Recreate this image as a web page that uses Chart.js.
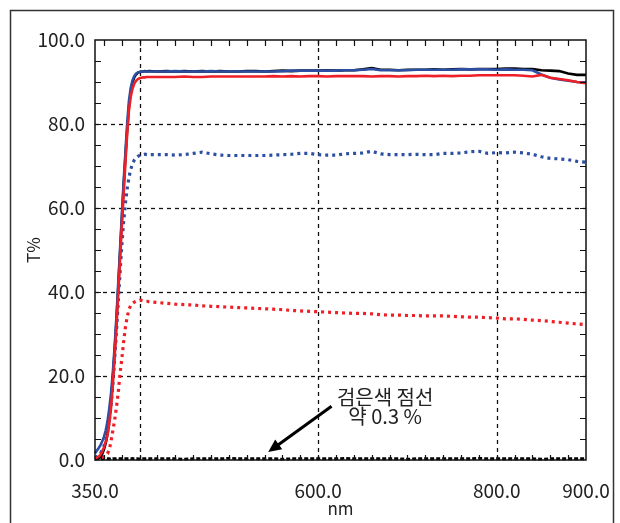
<!DOCTYPE html>
<html>
<head>
<meta charset="utf-8">
<script src="https://cdn.jsdelivr.net/npm/chart.js@4.4.0/dist/chart.umd.min.js"></script>
<style>
  html, body { margin: 0; padding: 0; background: #fff; }
  #wrap { width: 620px; height: 523px; }
</style>
</head>
<body>
<div id="wrap"><canvas id="tChart" width="620" height="523"></canvas></div>
<script>
// 파장 (nm): 상승 구간은 2 nm, 이후는 10 nm 간격
const wavelengths = [
  350, 352, 354, 356, 358, 360, 362, 364, 366, 368,
  370, 372, 374, 376, 378, 380, 382, 384, 386, 388,
  390, 392, 394, 396, 398, 400, 402, 404, 406, 408,
  410,
  420, 430, 440, 450, 460, 470, 480, 490, 500, 510,
  520, 530, 540, 550, 560, 570, 580, 590, 600, 610,
  620, 630, 640, 650, 660, 670, 680, 690, 700, 710,
  720, 730, 740, 750, 760, 770, 780, 790, 800, 810,
  820, 830, 840, 850, 860, 870, 880, 890, 900
];

// 투과율 T% — 검은색 실선
const blackSolid = [
  0.3, 0.3, 0.4, 0.7, 1.4, 2.5, 4.0, 6.2, 9.5, 14.0,
  19.5, 26.0, 33.0, 41.0, 49.0, 57.0, 65.0, 72.0, 78.5, 84.0,
  87.6, 89.9, 91.1, 91.8, 92.2, 92.4, 92.5, 92.5, 92.6, 92.5,
  92.6,
  92.5, 92.6, 92.5, 92.6, 92.5, 92.6, 92.5, 92.6, 92.5, 92.5,
  92.6, 92.6, 92.5, 92.6, 92.7, 92.6, 92.7, 92.7, 92.7, 92.8,
  92.7, 92.8, 92.8, 93.0, 93.3, 92.9, 92.9, 92.8, 92.9, 92.9,
  92.9, 93.0, 92.9, 93.0, 93.1, 93.0, 93.1, 93.1, 93.1, 93.2,
  93.2, 93.1, 93.1, 92.8, 92.7, 92.6, 92.0, 91.7, 91.7
];

// 파란색 실선
const blueSolid = [
  1.6, 2.2, 2.8, 3.5, 4.4, 5.5, 7.0, 9.2, 12.3, 16.0,
  21.0, 27.0, 34.0, 42.0, 50.0, 58.0, 66.0, 73.0, 80.0, 85.5,
  88.6, 90.4, 91.4, 92.0, 92.3, 92.4, 92.5, 92.5, 92.5, 92.5,
  92.5,
  92.5, 92.5, 92.6, 92.5, 92.5, 92.5, 92.6, 92.5, 92.5, 92.5,
  92.5, 92.5, 92.5, 92.5, 92.6, 92.7, 92.7, 92.7, 92.7, 92.7,
  92.7, 92.8, 92.8, 92.9, 93.1, 92.8, 92.8, 92.8, 92.8, 92.9,
  92.9, 92.9, 92.9, 92.9, 93.0, 93.0, 93.0, 93.0, 92.9, 93.0,
  92.9, 92.9, 92.8, 91.8, 91.0, 90.6, 90.3, 90.0, 89.9
];

// 빨간색 실선
const redSolid = [
  0.4, 0.5, 0.8, 1.2, 2.0, 3.0, 4.3, 6.0, 8.8, 12.5,
  18.0, 24.5, 31.5, 39.5, 47.5, 55.5, 63.0, 70.5, 77.5, 83.2,
  86.5, 88.4, 89.6, 90.3, 90.7, 90.9, 91.0, 91.1, 91.1, 91.2,
  91.2,
  91.2, 91.2, 91.2, 91.3, 91.2, 91.2, 91.3, 91.3, 91.3, 91.3,
  91.3, 91.3, 91.3, 91.4, 91.3, 91.4, 91.3, 91.4, 91.4, 91.3,
  91.4, 91.4, 91.4, 91.4, 91.3, 91.4, 91.4, 91.3, 91.4, 91.4,
  91.5, 91.4, 91.5, 91.4, 91.5, 91.5, 91.6, 91.6, 91.6, 91.6,
  91.6, 91.5, 91.3, 91.7, 91.0, 90.7, 90.4, 90.0, 89.7
];

// 파란색 점선
const blueDotted = [
  0.6, 0.8, 1.1, 1.6, 2.3, 3.3, 4.6, 6.5, 9.3, 13.0,
  18.0, 24.0, 30.5, 37.5, 44.5, 51.0, 56.5, 61.0, 64.5, 67.2,
  69.2, 70.5, 71.4, 72.0, 72.3, 72.5, 72.7, 72.7, 72.8, 72.7,
  72.7,
  72.7, 72.7, 72.6, 72.7, 73.0, 73.3, 72.9, 72.6, 72.5, 72.5,
  72.5, 72.5, 72.5, 72.6, 72.7, 72.8, 73.0, 73.0, 72.7, 72.6,
  72.6, 72.9, 73.0, 73.1, 73.5, 72.9, 72.7, 72.7, 72.7, 72.8,
  72.7, 72.7, 73.0, 73.0, 73.1, 73.4, 73.5, 73.0, 73.2, 73.1,
  73.3, 73.1, 72.8, 72.2, 71.8, 71.7, 71.5, 71.1, 70.9
];

// 빨간색 점선
const redDotted = [
  0.2, 0.3, 0.3, 0.4, 0.6, 0.8, 1.1, 1.5, 2.5, 4.5,
  7.0, 9.5, 12.5, 16.0, 20.5, 24.0, 28.0, 31.5, 34.0, 35.8,
  36.8, 37.3, 37.6, 37.8, 37.9, 38.0, 38.0, 37.9, 37.8, 37.8,
  37.7,
  37.5, 37.3, 37.1, 37.0, 36.9, 36.7, 36.6, 36.5, 36.4, 36.3,
  36.2, 36.1, 36.0, 35.9, 35.8, 35.6, 35.5, 35.4, 35.3, 35.2,
  35.1, 35.0, 34.9, 34.9, 34.8, 34.6, 34.5, 34.5, 34.4, 34.4,
  34.3, 34.3, 34.3, 34.2, 34.1, 34.0, 34.0, 33.9, 33.8, 33.6,
  33.6, 33.5, 33.3, 33.2, 33.0, 32.8, 32.6, 32.4, 32.2
];

// 검은색 점선 (약 0.3 %)
const blackDotted = [
  0.2, 0.3, 0.3, 0.2, 0.3, 0.3, 0.4, 0.3, 0.3, 0.2,
  0.3, 0.3, 0.3, 0.4, 0.3, 0.3, 0.2, 0.3, 0.3, 0.3,
  0.3, 0.4, 0.3, 0.3, 0.3, 0.2, 0.3, 0.3, 0.3, 0.3,
  0.3,
  0.3, 0.3, 0.3, 0.2, 0.3, 0.3, 0.3, 0.3, 0.4, 0.3,
  0.3, 0.3, 0.3, 0.3, 0.2, 0.3, 0.3, 0.3, 0.3, 0.3,
  0.3, 0.4, 0.3, 0.3, 0.3, 0.3, 0.3, 0.3, 0.2, 0.3,
  0.3, 0.3, 0.3, 0.3, 0.3, 0.3, 0.4, 0.3, 0.3, 0.3,
  0.3, 0.3, 0.3, 0.2, 0.3, 0.3, 0.3, 0.3, 0.3
];

// 축 눈금
const xLabelTicks = [350, 600, 800, 900];
const xGridLines = [400, 600, 800];
const yGridLines = [20, 40, 60, 80];
const noteLines = ['검은색 점선', '약 0.3 %'];

const FONT = "'Noto Sans CJK KR', 'Noto Sans', sans-serif";
const BLUE = '#2c4fa3';
const RED = '#ee1f26';

const toPoints = values => wavelengths.map((w, i) => ({ x: w, y: values[i] }));

function lineSet(label, values, color, width, dash) {
    return {
        label: label,
        data: toPoints(values),
        borderColor: color,
        borderWidth: width,
        borderDash: dash || [],
        pointRadius: 0,
        tension: 0,
        fill: false,
        clip: false
    };
}

// 격자, 안쪽 눈금, 테두리, 주석 화살표
const framePlugin = {
    id: 'framePlugin',
    beforeDraw(chart) {
        const ctx = chart.ctx;
        ctx.save();
        ctx.strokeStyle = '#333';
        ctx.lineWidth = 1.5;
        ctx.beginPath();
        ctx.moveTo(10.5, 530);
        ctx.lineTo(10.5, 10.5);
        ctx.lineTo(613.5, 10.5);
        ctx.lineTo(613.5, 530);
        ctx.stroke();
        ctx.restore();
    },
    beforeDatasetsDraw(chart) {
        const { ctx, chartArea: a, scales: { x, y } } = chart;
        ctx.save();
        ctx.strokeStyle = '#111';
        ctx.lineWidth = 1.3;
        ctx.setLineDash([4, 4]);
        xGridLines.forEach(v => {
            const px = Math.round(x.getPixelForValue(v)) + 0.5;
            ctx.beginPath();
            ctx.moveTo(px, a.top);
            ctx.lineTo(px, a.bottom);
            ctx.stroke();
        });
        yGridLines.forEach(v => {
            const py = Math.round(y.getPixelForValue(v)) + 0.5;
            ctx.beginPath();
            ctx.moveTo(a.left, py);
            ctx.lineTo(a.right, py);
            ctx.stroke();
        });
        ctx.restore();
    },
    afterDatasetsDraw(chart) {
        const { ctx, chartArea: a, scales: { x, y } } = chart;
        ctx.save();
        ctx.strokeStyle = '#111';
        ctx.lineWidth = 1.5;
        ctx.strokeRect(a.left, a.top, a.right - a.left, a.bottom - a.top);

        // 안쪽 보조 눈금
        ctx.lineWidth = 1.2;
        ctx.beginPath();
        for (let v = 360; v < 900; v += 20) {
            const px = Math.round(x.getPixelForValue(v)) + 0.5;
            ctx.moveTo(px, a.bottom);
            ctx.lineTo(px, a.bottom - 5);
            ctx.moveTo(px, a.top);
            ctx.lineTo(px, a.top + 6);
        }
        for (let v = 5; v < 100; v += 5) {
            const py = Math.round(y.getPixelForValue(v)) + 0.5;
            ctx.moveTo(a.left, py);
            ctx.lineTo(a.left + 6, py);
            ctx.moveTo(a.right, py);
            ctx.lineTo(a.right - 6, py);
        }
        ctx.stroke();

        // 주석: 검은색 점선을 가리키는 화살표
        const tipX = x.getPixelForValue(544), tipY = y.getPixelForValue(1.9);
        const tailX = x.getPixelForValue(615), tailY = y.getPixelForValue(12.8);
        const ang = Math.atan2(tipY - tailY, tipX - tailX);
        const head = 13;
        ctx.strokeStyle = '#000';
        ctx.fillStyle = '#000';
        ctx.lineWidth = 3;
        ctx.beginPath();
        ctx.moveTo(tailX, tailY);
        ctx.lineTo(tipX - Math.cos(ang) * head * 0.8, tipY - Math.sin(ang) * head * 0.8);
        ctx.stroke();
        ctx.beginPath();
        ctx.moveTo(tipX, tipY);
        ctx.lineTo(tipX - Math.cos(ang) * head + Math.sin(ang) * 6, tipY - Math.sin(ang) * head - Math.cos(ang) * 6);
        ctx.lineTo(tipX - Math.cos(ang) * head - Math.sin(ang) * 6, tipY - Math.sin(ang) * head + Math.cos(ang) * 6);
        ctx.closePath();
        ctx.fill();

        ctx.fillStyle = '#222';
        ctx.font = '20px ' + FONT;
        ctx.textAlign = 'center';
        ctx.textBaseline = 'middle';
        const tx = x.getPixelForValue(675);
        ctx.fillText(noteLines[0], tx, y.getPixelForValue(15.0));
        ctx.fillText(noteLines[1], tx, y.getPixelForValue(10.3));
        ctx.restore();
    }
};

const ctx = document.getElementById('tChart');
new Chart(ctx, {
    type: 'line',
    data: {
        datasets: [
            lineSet('red', redSolid, RED, 2.6),
            lineSet('blue', blueSolid, BLUE, 2.6),
            lineSet('black', blackSolid, '#000', 2.6),
            lineSet('blue dotted', blueDotted, BLUE, 3.2, [3, 4]),
            lineSet('red dotted', redDotted, RED, 3.2, [3, 4]),
            lineSet('black dotted', blackDotted, '#000', 2.8, [4, 2])
        ]
    },
    options: {
        responsive: false,
        devicePixelRatio: 1,
        animation: false,
        layout: { padding: { left: 0, right: 34, top: 40, bottom: 0 } },
        plugins: {
            legend: { display: false },
            tooltip: { enabled: false }
        },
        scales: {
            x: {
                type: 'linear',
                min: 350,
                max: 900,
                afterBuildTicks: scale => {
                    scale.ticks = xLabelTicks.map(v => ({ value: v }));
                },
                afterFit: scale => {
                    scale.height = 63;
                    scale.paddingLeft = 0;
                    scale.paddingRight = 0;
                },
                grid: { display: false, drawTicks: false },
                border: { display: false },
                ticks: {
                    padding: 19,
                    maxRotation: 0,
                    color: '#222',
                    font: { family: FONT, size: 19 },
                    callback: v => Number(v).toFixed(1)
                },
                title: {
                    display: true,
                    text: 'nm',
                    color: '#222',
                    padding: { top: 0, bottom: 4 },
                    font: { family: FONT, size: 17 }
                }
            },
            y: {
                min: 0,
                max: 100,
                afterFit: scale => { scale.width = 95; },
                grid: { display: false, drawTicks: false },
                border: { display: false },
                ticks: {
                    stepSize: 20,
                    padding: 10,
                    color: '#222',
                    font: { family: FONT, size: 19 },
                    callback: v => Number(v).toFixed(1)
                },
                title: {
                    display: true,
                    text: 'T%',
                    color: '#222',
                    padding: { top: 23, bottom: 0 },
                    font: { family: FONT, size: 17 }
                }
            }
        }
    },
    plugins: [framePlugin]
});
</script>
</body>
</html>
